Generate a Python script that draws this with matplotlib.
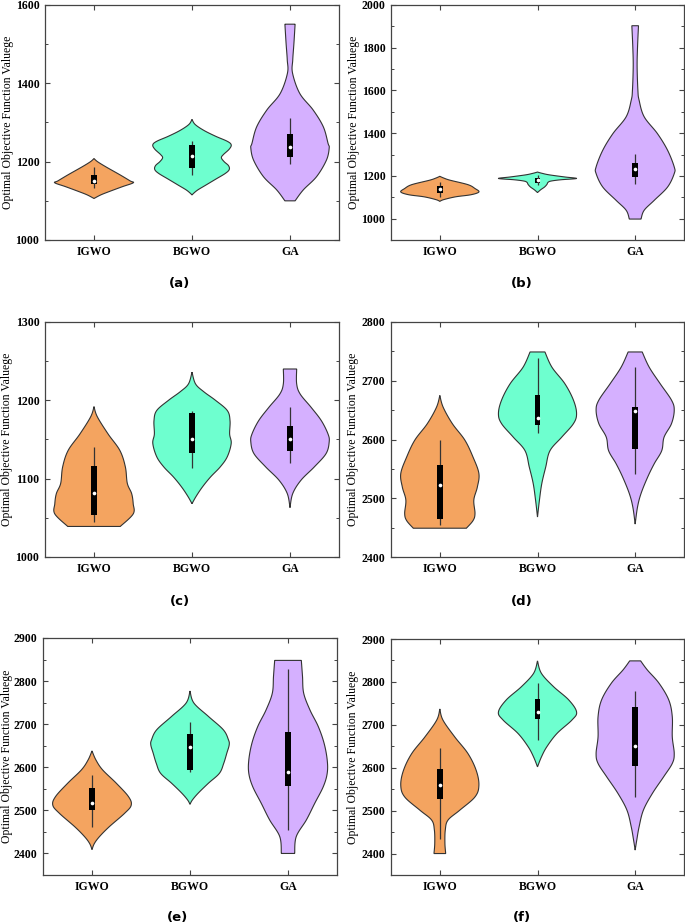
import numpy as np
import matplotlib
matplotlib.use('Agg')
import matplotlib.pyplot as plt
from matplotlib.ticker import MultipleLocator

algorithms = ['IGWO', 'BGWO', 'GA']
colors = ['#F4A460', '#6EFFCF', '#D5B0FF']
panel_tags = ['(a)', '(b)', '(c)', '(d)', '(e)', '(f)']
ylabel = 'Optimal Objective Function Valuege'

# y limits, major and minor tick steps, first labelled tick
ylims = [(1000, 1600), (900, 2000), (1000, 1300), (2400, 2800), (2350, 2900), (2350, 2900)]
ymajor = [200, 200, 100, 100, 100, 100]
yminor = [100, 100, 50, 50, 50, 50]
yfirst = [1000, 1000, 1000, 2400, 2400, 2400]

# violin outlines: (value, relative half width), top to bottom
a_igwo = [(1208, 0), (1200, 0.09), (1187, 0.3), (1166, 0.67), (1151, 0.92), (1146, 1.0),
          (1136, 0.72), (1123, 0.37), (1115, 0.17), (1106, 0)]
a_bgwo = [(1308, 0), (1295, 0.08), (1280, 0.3), (1265, 0.6), (1252, 0.9), (1243, 1.0), (1232, 0.95),
          (1218, 0.8), (1210, 0.75), (1200, 0.82), (1190, 0.93), (1180, 0.95), (1170, 0.85),
          (1155, 0.6), (1140, 0.35), (1128, 0.15), (1120, 0.05), (1115, 0)]
a_ga = [(1551, 0.13), (1502, 0.1), (1460, 0.07), (1426, 0.065), (1374, 0.25), (1332, 0.59),
        (1289, 0.85), (1247, 0.97), (1235, 1.0), (1204, 0.93), (1162, 0.68), (1128, 0.34), (1100, 0.13)]

b_igwo = [(1198, 0), (1190, 0.1), (1180, 0.26), (1159, 0.72), (1141, 0.9), (1125, 1.0),
          (1112, 0.8), (1102, 0.4), (1089, 0.1), (1081, 0)]
b_bgwo = [(1218, 0), (1212, 0.12), (1205, 0.3), (1195, 0.7), (1188, 1.0), (1182, 0.6), (1176, 0.35),
          (1170, 0.27), (1160, 0.24), (1148, 0.18), (1135, 0.08), (1122, 0)]
b_ga = [(1903, 0.085), (1800, 0.06), (1711, 0.05), (1600, 0.07), (1555, 0.1), (1477, 0.23),
        (1398, 0.57), (1320, 0.83), (1242, 1.0), (1211, 1.0), (1148, 0.83), (1086, 0.49),
        (1039, 0.23), (998, 0.15)]

c_igwo = [(1192, 0), (1179, 0.085), (1157, 0.36), (1136, 0.66), (1115, 0.8), (1094, 0.85),
          (1081, 0.96), (1068, 1.0), (1055, 1.0), (1039, 0.67)]
c_bgwo = [(1236, 0), (1221, 0.09), (1211, 0.3), (1200, 0.6), (1187, 0.9), (1174, 0.97), (1157, 0.96),
          (1145, 1.0), (1128, 0.9), (1115, 0.72), (1102, 0.47), (1089, 0.26), (1077, 0.1), (1068, 0)]
c_ga = [(1240, 0.17), (1221, 0.17), (1208, 0.26), (1191, 0.54), (1174, 0.8), (1157, 0.97),
        (1147, 1.0), (1132, 0.92), (1115, 0.62), (1098, 0.28), (1081, 0.07), (1063, 0)]

d_igwo = [(2675, 0), (2655, 0.085), (2627, 0.32), (2599, 0.64), (2570, 0.85), (2542, 1.0),
          (2519, 0.96), (2497, 0.87), (2474, 0.9), (2462, 0.85), (2449, 0.68)]
d_bgwo = [(2749, 0.19), (2723, 0.37), (2695, 0.7), (2667, 0.92), (2644, 1.0), (2627, 0.92),
          (2604, 0.62), (2581, 0.32), (2553, 0.21), (2525, 0.11), (2497, 0.05), (2468, 0)]
d_ga = [(2749, 0.18), (2723, 0.36), (2695, 0.64), (2667, 0.93), (2650, 1.0), (2627, 0.93),
        (2604, 0.74), (2581, 0.68), (2559, 0.49), (2536, 0.32), (2508, 0.15), (2485, 0.06), (2456, 0)]

e_igwo = [(2638, 0), (2617, 0.1), (2594, 0.27), (2563, 0.62), (2532, 0.93), (2512, 1.0),
          (2493, 0.83), (2462, 0.44), (2439, 0.19), (2423, 0.06), (2409, 0)]
e_bgwo = [(2777, 0), (2749, 0.1), (2718, 0.47), (2687, 0.85), (2664, 0.98), (2652, 1.0), (2633, 0.94),
          (2609, 0.86), (2586, 0.75), (2563, 0.47), (2540, 0.21), (2524, 0.06), (2514, 0)]
e_ga = [(2848, 0.34), (2811, 0.37), (2772, 0.4), (2733, 0.56), (2695, 0.77), (2656, 0.92),
        (2617, 1.0), (2586, 1.0), (2555, 0.9), (2516, 0.68), (2478, 0.47), (2439, 0.21), (2400, 0.17)]

f_igwo = [(2737, 0), (2711, 0.08), (2672, 0.38), (2633, 0.72), (2594, 0.93), (2559, 1.0),
          (2532, 0.9), (2501, 0.51), (2478, 0.21), (2455, 0.14), (2424, 0.13), (2400, 0.15)]
f_bgwo = [(2849, 0), (2820, 0.1), (2789, 0.41), (2758, 0.8), (2730, 1.0), (2711, 0.88),
          (2680, 0.5), (2649, 0.24), (2625, 0.1), (2602, 0)]
f_ga = [(2849, 0.14), (2828, 0.31), (2797, 0.61), (2758, 0.86), (2719, 0.95), (2672, 0.95),
        (2633, 1.0), (2610, 0.95), (2579, 0.73), (2540, 0.44), (2501, 0.21), (2462, 0.1),
        (2431, 0.04), (2408, 0)]

# box stats: (whisker low, q1, median, q3, whisker high)
a_box = [(1132, 1142, 1150, 1166, 1187), (1167, 1183, 1214, 1242, 1254), (1194, 1211, 1237, 1270, 1311)]
b_box = [(1102, 1120, 1137, 1152, 1172), (1156, 1169, 1180, 1191, 1203), (1164, 1195, 1230, 1262, 1302)]
c_box = [(1045, 1054, 1082, 1116, 1140), (1114, 1133, 1150, 1184, 1187), (1120, 1135, 1150, 1167, 1191)]
d_box = [(2454, 2464, 2522, 2557, 2599), (2611, 2624, 2637, 2675, 2739), (2542, 2583, 2648, 2656, 2723)]
e_box = [(2462, 2502, 2516, 2551, 2581), (2588, 2594, 2646, 2677, 2705), (2454, 2557, 2590, 2683, 2828)]
f_box = [(2433, 2527, 2559, 2596, 2647), (2665, 2713, 2731, 2760, 2797), (2532, 2605, 2651, 2742, 2779)]

violins = [[a_igwo, a_bgwo, a_ga], [b_igwo, b_bgwo, b_ga], [c_igwo, c_bgwo, c_ga],
           [d_igwo, d_bgwo, d_ga], [e_igwo, e_bgwo, e_ga], [f_igwo, f_bgwo, f_ga]]
boxes = [a_box, b_box, c_box, d_box, e_box, f_box]

# axes rectangles in pixels: left, top, right, bottom
rects = [(45, 5, 339, 240), (391, 5, 684, 240),
         (45, 322, 339, 557), (391, 322, 684, 557),
         (43, 638, 337, 875), (391, 639, 684, 875)]
ylabel_x = [8, 354, 7, 353, 7, 353]
tag_pos = [(180, 283), (522, 283), (180, 602), (522, 602), (178, 918), (522, 918)]

W, H = 685, 924
plt.rcParams['font.family'] = ['Liberation Serif', 'DejaVu Serif']
plt.rcParams['xtick.direction'] = 'in'
plt.rcParams['ytick.direction'] = 'in'


def outline(pts, n=14):
    # catmull-rom through the read points, for a smooth edge
    p = np.array(pts, float)
    p = np.vstack([p[0], p, p[-1]])
    out = []
    t = np.linspace(0, 1, n, endpoint=False)[:, None]
    for i in range(1, len(p) - 2):
        p0, p1, p2, p3 = p[i - 1], p[i], p[i + 1], p[i + 2]
        seg = 0.5 * (2 * p1 + (-p0 + p2) * t + (2 * p0 - 5 * p1 + 4 * p2 - p3) * t ** 2
                     + (-p0 + 3 * p1 - 3 * p2 + p3) * t ** 3)
        out.append(seg)
    out.append(p[-2][None])
    out = np.vstack(out)
    out[:, 1] = np.clip(out[:, 1], 0, None)
    return out[:, 0], out[:, 1]


fig = plt.figure(figsize=(W / 100, H / 100), dpi=100)
for k in range(6):
    l, t, r, b = rects[k]
    ax = fig.add_axes([l / W, 1 - b / H, (r - l) / W, (b - t) / H])
    for i, name in enumerate(algorithms):
        pos = i + 1
        yv, wv = outline(violins[k][i])
        xs = np.concatenate([pos + 0.4 * wv, (pos - 0.4 * wv)[::-1]])
        ys = np.concatenate([yv, yv[::-1]])
        ax.fill(xs, ys, facecolor=colors[i], edgecolor='#333333', lw=0.8, zorder=2)
        lo, q1, med, q3, hi = boxes[k][i]
        ax.vlines(pos, lo, hi, color='#333333', lw=0.9, zorder=3)
        ax.bar(pos, q3 - q1, bottom=q1, width=0.06, color='black', zorder=4)
        ax.scatter([pos], [med], s=7, color='white', zorder=5, linewidths=0)
    ax.set_xlim(0.5, 3.5)
    ax.set_ylim(*ylims[k])
    ax.set_xticks([1, 2, 3])
    ax.set_xticklabels(algorithms)
    ax.set_yticks(np.arange(yfirst[k], ylims[k][1] + 1, ymajor[k]))
    ax.yaxis.set_minor_locator(MultipleLocator(yminor[k]))
    ax.tick_params(which='both', top=True, right=True, labelsize=8.5, color='#444444', pad=4)
    ax.tick_params(which='major', length=3.5, width=0.8)
    ax.tick_params(which='minor', length=2, width=0.7)
    for lab in ax.get_xticklabels() + ax.get_yticklabels():
        lab.set_fontweight('bold')
    for sp in ax.spines.values():
        sp.set_color('#444444')
        sp.set_linewidth(0.9)
    ax.set_ylabel(ylabel, fontsize=8.5, va='center')
    ax.yaxis.set_label_coords((ylabel_x[k] - l) / (r - l), 0.5)
    tx, ty = tag_pos[k]
    fig.text(tx / W, 1 - ty / H, panel_tags[k], ha='center', va='center', fontsize=9.5,
             fontweight='bold', family=['DejaVu Sans'])

fig.savefig('out.png', dpi=100)
